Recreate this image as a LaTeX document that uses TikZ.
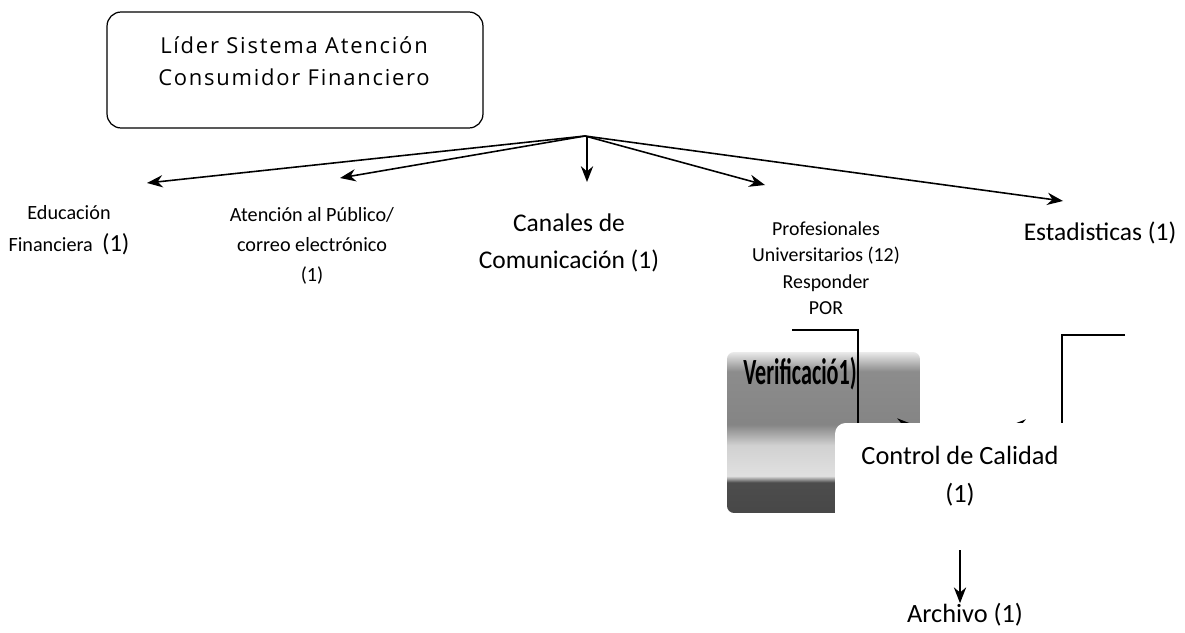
\documentclass[tikz,border=0pt]{standalone}
\usepackage{fontspec}
\setmainfont{Carlito}
\newfontfamily\rootfont[LetterSpace=8]{Open Sans}
\newfontfamily\condfont[FakeStretch=0.6]{Carlito}
\usetikzlibrary{arrows.meta,positioning}

% grey band behind the Verificacion box (bottom -> top, visible part 25bp..75bp)
\pgfdeclareverticalshading{verifshade}{100bp}{color(0bp)=(black!72); color(25bp)=(black!72); color(34.5bp)=(black!70); color(36.5bp)=(black!12); color(46bp)=(black!18); color(52.5bp)=(black!48); color(69bp)=(black!45); color(75bp)=(black!8); color(100bp)=(black!8)}

\begin{document}
\begin{tikzpicture}[
    x=0.02cm, y=-0.02cm,
    rootbox/.style={rectangle, draw, rounded corners=8pt, line width=0.7pt, minimum width=7.52cm, minimum height=2.32cm},
    area/.style={align=center, inner sep=0pt},
    arrow/.style={line width=0.9pt, -{Stealth[length=9pt, width=7pt]}},
    cover/.style={rectangle, fill=white, rounded corners=6pt, minimum width=5cm, minimum height=2.14cm}
]
    \useasboundingbox (0,0) rectangle (1185,632);

    % Leader box
    \node [rootbox] (lider) at (295,70) {};
    \node [area, font=\rootfont\fontsize{12.5}{18}\selectfont] (lidertxt) at (294,61)
        {L\'ider Sistema Atenci\'on\\Consumidor Financiero};

    % Areas (one row)
    \node [area, font=\fontsize{11.5}{18.5}\selectfont] (educacion) at (69,230)
        {Educaci\'on\\Financiera~~{\fontsize{14}{18.5}\selectfont(1)}};
    \node [area, font=\fontsize{11.5}{17}\selectfont] (atencion) at (312,246)
        {Atenci\'on al P\'ublico/\\correo electr\'onico\\(1)};
    \node [area, font=\fontsize{14.5}{21}\selectfont] (canales) at (569,243)
        {Canales de\\Comunicaci\'on (1)};
    \node [area, font=\fontsize{11.3}{15}\selectfont] (profesionales) at (826,268)
        {Profesionales\\Universitarios (12)\\Responder\\POR};
    \node [area, font=\fontsize{14.5}{15}\selectfont] (estadisticas) at (1100,233)
        {Estadisticas (1)};

    %--- Arrows from the leader ---
    \coordinate (hub) at (585,136);
    \coordinate (edutip) at (147,183);
    \coordinate (atntip) at (340,178);
    \coordinate (cantip) at (587,182);
    \coordinate (proftip) at (765,185);
    \coordinate (esttip) at (1063,201);
    \draw [arrow] (hub) -- (edutip);
    \draw [arrow] (hub) -- (atntip);
    \draw [arrow] (hub -| cantip) -- (cantip);
    \draw [arrow] (hub) -- (proftip);
    \draw [arrow] (hub) -- (esttip);

    %--- Lower part ---
    \node [rectangle, rounded corners=4pt, shading=verifshade, minimum width=3.86cm, minimum height=3.22cm] (verificacion) at (823.5,432.5) {};
    \node [area, font=\condfont\bfseries\fontsize{21}{21}\selectfont] (verifictxt) at (800,374) {Verificaci\'o1)};

    \coordinate (verifin) at (792,330);
    \coordinate (verifend) at (913,424.5);
    \coordinate (estin) at (1125,335);
    \coordinate (estend) at (1010,425.5);
    \draw [arrow] (verifin) -- ++(66,0) |- (verifend);
    \draw [arrow] (estin) -- ++(-63,0) |- (estend);

    \node [cover] (calidad) at (960,476.5) {};
    \node [area, font=\fontsize{15}{21.5}\selectfont] (calidadtxt) at (960,476)
        {Control de Calidad\\(1)};
    \node [area, font=\fontsize{15}{15}\selectfont] (archivo) at (965,615) {Archivo (1)};

    \coordinate (calout) at (960,550);
    \draw [arrow] (calout) -- (archivo.north -| calout);

\end{tikzpicture}
\end{document}
